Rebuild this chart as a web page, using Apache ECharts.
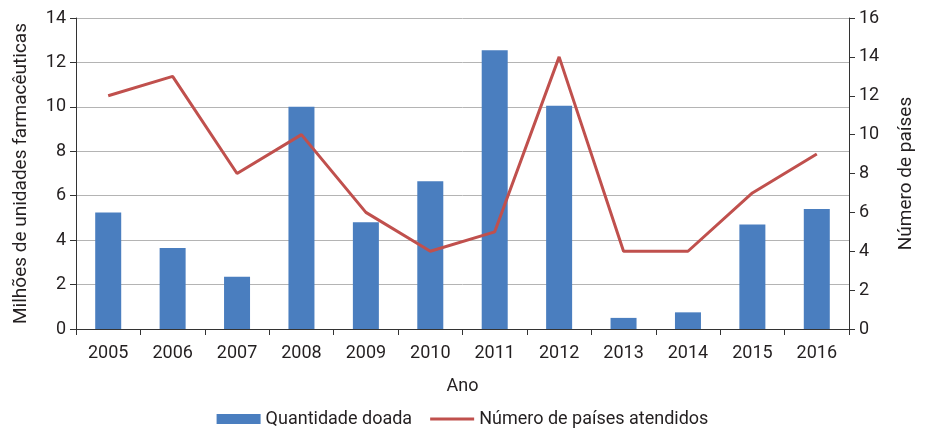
<!DOCTYPE html>
<html><head><meta charset="utf-8">
<script src="https://cdn.jsdelivr.net/npm/echarts@6/dist/echarts.min.js"></script>
<style>html,body{margin:0;padding:0;background:#fff}#c{width:925px;height:431px}</style>
</head><body><div id="c"></div>
<script>
const years = ['2005','2006','2007','2008','2009','2010','2011','2012','2013','2014','2015','2016'];
const quantidade = [5.25, 3.65, 2.35, 10.0, 4.8, 6.65, 12.55, 10.05, 0.5, 0.75, 4.7, 5.4];
const paises = [12, 13, 8, 10, 6, 4, 5, 14, 4, 4, 7, 9];
const FONT = 'Roboto, "Liberation Sans", sans-serif';
const txt = '#231f20';
const chart = echarts.init(document.getElementById('c'));
chart.setOption({
  animation: false,
  textStyle: {fontFamily: FONT},
  grid: {left: 76, right: 76, top: 18, bottom: 102},
  legend: {
    bottom: -2, left: 'center', itemWidth: 44, itemHeight: 10, itemGap: 18,
    textStyle: {fontFamily: FONT, fontSize: 18, color: txt},
    data: [{name: 'Quantidade doada', icon: 'rect'}, {name: 'Número de países atendidos', icon: 'path://M0,4 L46,4 L46,7 L0,7 Z'}]
  },
  xAxis: {
    type: 'category', data: years,
    name: 'Ano', nameLocation: 'middle', nameGap: 48,
    nameTextStyle: {fontFamily: FONT, fontSize: 18, color: txt},
    axisLine: {lineStyle: {color: '#333', width: 1}},
    axisTick: {show: true, length: 6, lineStyle: {color: '#333'}},
    axisLabel: {fontFamily: FONT, fontSize: 18, color: txt, margin: 15}
  },
  yAxis: [{
    type: 'value', min: 0, max: 14, interval: 2,
    name: 'Milhões de unidades farmacêuticas', nameLocation: 'middle', nameGap: 45, nameRotate: 90,
    nameTextStyle: {fontFamily: FONT, fontSize: 19, color: txt},
    axisLine: {show: true, lineStyle: {color: '#333'}},
    axisTick: {show: true, length: 6, lineStyle: {color: '#333'}},
    axisLabel: {fontFamily: FONT, fontSize: 18, color: txt, margin: 10},
    splitLine: {lineStyle: {color: '#b4b4b4'}}
  }, {
    type: 'value', min: 0, max: 16, interval: 2, position: 'right',
    name: 'Número de países', nameLocation: 'middle', nameGap: 48, nameRotate: 90,
    nameTextStyle: {fontFamily: FONT, fontSize: 19, color: txt},
    axisLine: {show: true, lineStyle: {color: '#333'}},
    axisTick: {show: true, length: 6, lineStyle: {color: '#333'}},
    axisLabel: {fontFamily: FONT, fontSize: 18, color: txt, margin: 10},
    splitLine: {show: false}
  }],
  series: [{
    name: 'Quantidade doada', type: 'bar', data: quantidade, barWidth: 26,
    itemStyle: {color: '#4a7ebf'}
  }, {
    name: 'Número de países atendidos', type: 'line', yAxisIndex: 1, data: paises,
    symbol: 'none', lineStyle: {color: '#c0504d', width: 3}, itemStyle: {color: '#c0504d'}
  }]
});
</script></body></html>
